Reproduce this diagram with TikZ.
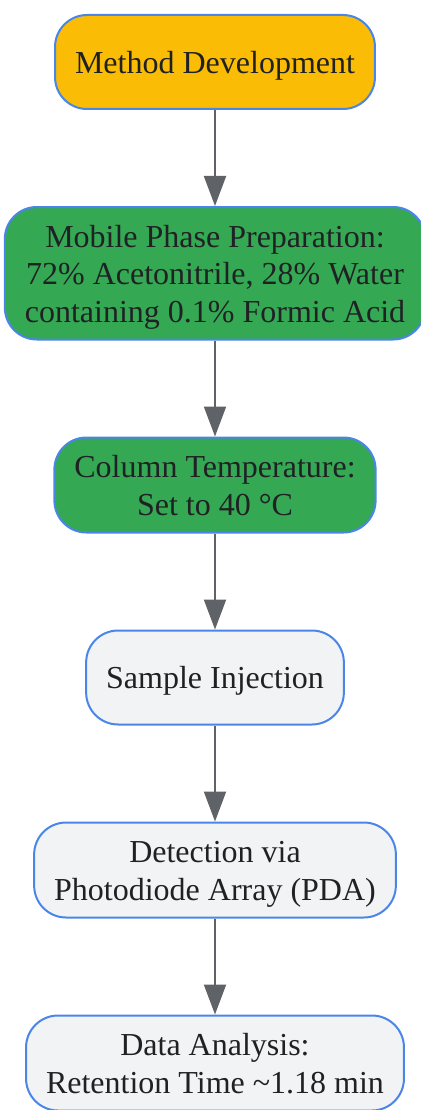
\documentclass[tikz,border=0pt]{standalone}
\usepackage{fontspec}
\setmainfont{Liberation Serif}
\usepackage{tikz}
\usetikzlibrary{positioning, arrows.meta}
\definecolor{edgeblue}{HTML}{4A86E8}
\definecolor{startyellow}{HTML}{FBBC05}
\definecolor{prepgreen}{HTML}{34A853}
\definecolor{stepgrey}{HTML}{F1F3F4}
\definecolor{linkgrey}{HTML}{5F6368}
\definecolor{inkgrey}{HTML}{202124}
% one line of node text, as high as the line spacing
\newcommand\st{\rule[-7.5pt]{0pt}{37.5pt}}
\tikzset{
	stage/.append style={
		draw=edgeblue,
		line width=2pt,
		rounded corners=32pt,
		align = center,
		text=inkgrey,
		minimum height=94pt,
		inner xsep=20pt,
		inner ysep=10pt,
		font={\fontsize{32}{37.5}\selectfont}
	},
	startstage/.append style={
		stage,
		fill=startyellow,
	},
	greenstage/.append style={
		stage,
		fill=prepgreen,
	},
	greystage/.append style={
		stage,
		fill=stepgrey,
	},
	link/.append style={
		draw=linkgrey,
		line width=2pt,
		-{Triangle[width=22pt,length=30pt]}
	}
}

\begin{document}
\begin{tikzpicture}[node distance=96pt]
\useasboundingbox (0,0) rectangle (420pt,-1110pt);
\node(a)[startstage] at (215pt,-62pt) {\st Method Development\st};
\node(b)[greenstage, below = of a] {\st Mobile Phase Preparation:\\72\% Acetonitrile, 28\% Water\\containing 0.1\% Formic Acid\st};
\node(c)[greenstage, below = of b] {\st Column Temperature:\\Set to 40 °C\st};
\node(d)[greystage, below = of c] {\st Sample Injection\st};
\node(e)[greystage, below = of d] {\st Detection via\\Photodiode Array (PDA)\st};
\node(f)[greystage, below = of e] {\st Data Analysis:\\Retention Time \textasciitilde1.18 min\st};

\draw[link] (a) -- (b);
\draw[link] (b) -- (c);
\draw[link] (c) -- (d);
\draw[link] (d) -- (e);
\draw[link] (e) -- (f);
\end{tikzpicture}
\end{document}
